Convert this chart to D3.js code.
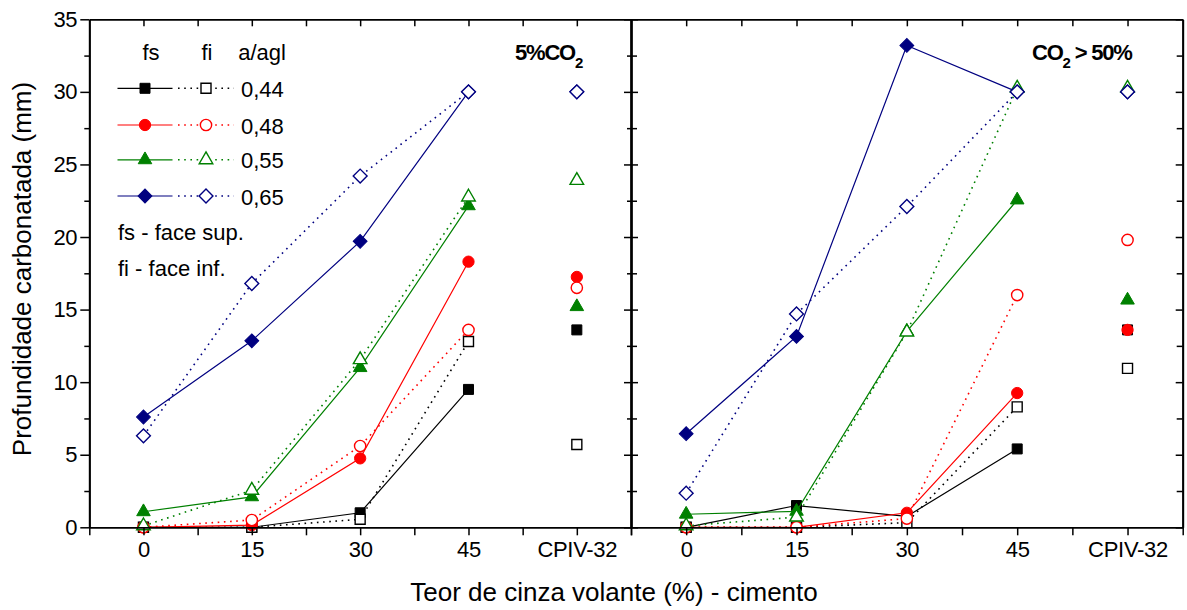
<!DOCTYPE html>
<html>
<head>
<meta charset="utf-8">
<script src="https://cdn.jsdelivr.net/npm/d3@7"></script>
<style>
  html, body { margin: 0; padding: 0; background: #fff; }
  svg text { font-family: "Liberation Sans", Arial, sans-serif; }
</style>
</head>
<body>
<svg id="chart" width="1187" height="610"></svg>
<script>
// ---------------- DATA ----------------
const categories = ["0", "15", "30", "45", "CPIV-32"];
const ratios = ["0,44", "0,48", "0,55", "0,65"];
const yTicksMajor = [0, 5, 10, 15, 20, 25, 30, 35];

// 5% CO2 panel (fs = face superior, fi = face inferior)
const fs5_044 = [0, 0, 1.0, 9.5, 13.6];
const fi5_044 = [0, 0, 0.55, 12.8, 5.7];
const fs5_048 = [0, 0.15, 4.75, 18.3, 17.25];
const fi5_048 = [0, 0.5, 5.6, 13.6, 16.5];
const fs5_055 = [1.07, 2.1, 11.0, 22.15, 15.2];
const fi5_055 = [0.1, 2.55, 11.55, 22.75, 23.9];
const fs5_065 = [7.6, 12.85, 19.7, 30.0, 30.0];
const fi5_065 = [6.3, 16.8, 24.2, 30.0, 30.0];

// CO2 > 50% panel
const fs50_044 = [0, 1.5, 0.75, 5.4, 13.6];
const fi50_044 = [0, 0, 0.32, 8.3, 10.95];
const fs50_048 = [0, 0, 1.0, 9.25, 13.6];
const fi50_048 = [0, 0, 0.6, 16.0, 19.8];
const fs50_055 = [0.9, 1.1, 13.5, 22.55, 15.65];
const fi50_055 = [0.1, 0.7, 13.45, 30.25, 30.25];
const fs50_065 = [6.45, 13.15, 33.2, 30.0, 30.0];
const fi50_065 = [2.35, 14.7, 22.1, 30.0, 30.0];

// ---------------- STYLES ----------------
const colors = ["#000000", "#ff0000", "#008000", "#000080"];
const shapes = ["square", "circle", "triangle", "diamond"];

const svg = d3.select("#chart");
const y = d3.scaleLinear().domain([0, 35]).range([527.3, 19.3]);

const panels = [
  { x0: 89.3, x1: 631, series: [[fs5_044, fi5_044], [fs5_048, fi5_048], [fs5_055, fi5_055], [fs5_065, fi5_065]] },
  { x0: 631, x1: 1182.7, series: [[fs50_044, fi50_044], [fs50_048, fi50_048], [fs50_055, fi50_055], [fs50_065, fi50_065]] }
];

function symbolPath(shape) {
  if (shape === "square") return d3.symbol(d3.symbolSquare, 100)();
  if (shape === "circle") return d3.symbol(d3.symbolCircle, 100)();
  if (shape === "triangle") return d3.symbol(d3.symbolTriangle, 80)();
  if (shape === "diamond") return d3.symbol(d3.symbolSquare, 96)();
  return "";
}
function drawMarker(g, cx, cy, si, filled) {
  const shape = shapes[si];
  g.append("path")
    .attr("d", symbolPath(shape))
    .attr("transform", `translate(${cx},${cy})` + (shape === "diamond" ? " rotate(45)" : ""))
    .attr("fill", filled ? colors[si] : "#ffffff")
    .attr("stroke", colors[si])
    .attr("stroke-width", filled ? 1 : 1.4);
}

const halfSteps = d3.range(-0.5, 4.51, 0.5);
const minorY = d3.range(0, 35.01, 2.5).filter(v => v % 5 !== 0);

panels.forEach((p, pi) => {
  const x = d3.scaleLinear().domain([-0.5, 4.5]).range([p.x0, p.x1]);
  const g = svg.append("g");

  // series: lines + markers
  const line = d3.line().x((d, i) => x(i)).y(d => y(d));
  p.series.forEach((pair, si) => {
    const [fsv, fiv] = pair;
    g.append("path").datum(fsv.slice(0, 4)).attr("d", line)
      .attr("fill", "none").attr("stroke", colors[si]).attr("stroke-width", 1.2);
    fsv.forEach((v, i) => drawMarker(g, x(i), y(v), si, true));
    g.append("path").datum(fiv.slice(0, 4)).attr("d", line)
      .attr("fill", "none").attr("stroke", colors[si]).attr("stroke-width", 1.6)
      .attr("stroke-dasharray", "1.6,4.6");
    fiv.forEach((v, i) => drawMarker(g, x(i), y(v), si, false));
  });

  // axes
  const fmt = d => (Math.abs(d - Math.round(d)) < 1e-6 && d >= 0 && d <= 4) ? categories[Math.round(d)] : "";
  g.append("g").attr("transform", `translate(0,${y(0)})`)
    .call(d3.axisBottom(x).tickValues(halfSteps).tickFormat(fmt).tickSizeInner(8).tickSizeOuter(0).tickPadding(6));
  g.append("g").attr("transform", `translate(0,${y(35)})`)
    .call(d3.axisTop(x).tickValues(halfSteps.filter(v => v > -0.5 && v < 4.5)).tickFormat("").tickSizeInner(-7).tickSizeOuter(0));

  if (pi === 0) {
    g.append("g").attr("transform", `translate(${p.x0},0)`)
      .call(d3.axisLeft(y).tickValues(yTicksMajor).tickSizeInner(9).tickSizeOuter(0).tickPadding(3).tickFormat(d3.format("d")));
    g.append("g").attr("transform", `translate(${p.x0},0)`)
      .call(d3.axisLeft(y).tickValues(minorY).tickSizeInner(5).tickSizeOuter(0).tickFormat(""));
  } else {
    g.append("g").attr("transform", `translate(${p.x0},0)`)
      .call(d3.axisLeft(y).tickValues(yTicksMajor).tickSizeInner(-7).tickSizeOuter(0).tickFormat(""));
    g.append("g").attr("transform", `translate(${p.x0},0)`)
      .call(d3.axisLeft(y).tickValues(minorY).tickSizeInner(-6).tickSizeOuter(0).tickFormat(""));
  }
  g.append("g").attr("transform", `translate(${p.x1},0)`)
    .call(d3.axisRight(y).tickValues(yTicksMajor).tickSizeInner(-7).tickSizeOuter(0).tickFormat(""));
  g.append("g").attr("transform", `translate(${p.x1},0)`)
    .call(d3.axisRight(y).tickValues(minorY).tickSizeInner(pi === 0 ? -4 : -6).tickSizeOuter(0).tickFormat(""));

  g.selectAll(".domain").attr("stroke", "#000").attr("stroke-width", 1.8);
  g.selectAll(".tick line").attr("stroke", "#000").attr("stroke-width", 1.5);
  g.selectAll(".tick text").attr("fill", "#000").style("font-size", "22px").style("letter-spacing", "-0.3px");
});

// panel titles
const t1 = svg.append("text").attr("x", 515).attr("y", 60)
  .style("font-size", "22px").style("font-weight", "bold").style("letter-spacing", "-1.2px").attr("fill", "#000");
t1.append("tspan").text("5%CO");
t1.append("tspan").text("2").attr("dy", 8).style("font-size", "15px");

const t2 = svg.append("text").attr("x", 1032).attr("y", 60)
  .style("font-size", "22px").style("font-weight", "bold").style("letter-spacing", "-1.2px").attr("fill", "#000");
t2.append("tspan").text("CO");
t2.append("tspan").text("2").attr("dy", 8).style("font-size", "15px");
t2.append("tspan").text(" > 50%").attr("dy", -8);

// legend
const lg = svg.append("g");
const legTxt = (x, yy, s, anchor) => lg.append("text").attr("x", x).attr("y", yy).text(s)
  .attr("text-anchor", anchor || "start").style("font-size", "22px").attr("fill", "#000");
legTxt(151, 60, "fs", "middle");
legTxt(207, 60, "fi", "middle");
legTxt(262, 60, "a/agl", "middle");
const rowY = [88.3, 125, 159.8, 196];
ratios.forEach((r, si) => {
  const yy = rowY[si];
  lg.append("line").attr("x1", 117.5).attr("x2", 172.5).attr("y1", yy).attr("y2", yy)
    .attr("stroke", colors[si]).attr("stroke-width", 1.2);
  drawMarker(lg, 145, yy, si, true);
  lg.append("line").attr("x1", 178).attr("x2", 234).attr("y1", yy).attr("y2", yy)
    .attr("stroke", colors[si]).attr("stroke-width", 1.6).attr("stroke-dasharray", "1.6,4.6");
  drawMarker(lg, 206, yy, si, false);
  legTxt(241, yy + 8.5, r);
});
legTxt(118, 240, "fs - face sup.");
legTxt(118, 276, "fi - face inf.");

// axis titles
svg.append("text").attr("x", 614).attr("y", 601).attr("text-anchor", "middle")
  .style("font-size", "26px").attr("fill", "#000")
  .text("Teor de cinza volante (%) - cimento");
svg.append("text").attr("transform", "translate(31,269) rotate(-90)").attr("text-anchor", "middle")
  .style("font-size", "26px").attr("fill", "#000")
  .text("Profundidade carbonatada (mm)");
</script>
</body>
</html>
